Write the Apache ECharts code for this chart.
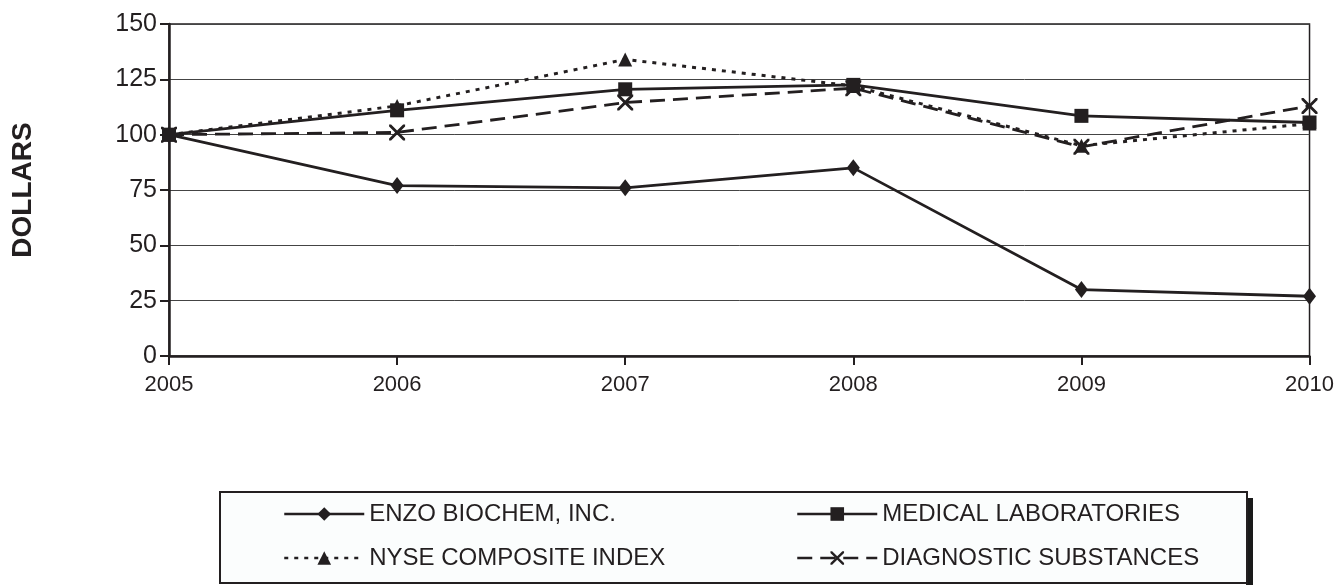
<!DOCTYPE html>
<html>
<head>
<meta charset="utf-8">
<script src="https://cdn.jsdelivr.net/npm/echarts@6/dist/echarts.min.js"></script>
<style>
  html, body { margin: 0; padding: 0; background: #fff; }
  #chart { width: 1337px; height: 585px; }
</style>
</head>
<body>
<div id="chart"></div>
<script>
// data
const years = ["2005", "2006", "2007", "2008", "2009", "2010"];
const enzo = [100, 77, 76, 85, 30, 27];
const medical = [100, 111, 120.5, 122.5, 108.5, 105.5];
const nyse = [100, 113, 134, 122, 95, 105];
const diagnostic = [100, 101, 114.5, 121, 94.5, 113];

const ink = "#231f20";
const font = "Liberation Sans, Arial";
const crossPath =
  "path://M0,0 L2.5,0 L10,7.5 L17.5,0 L20,0 L20,2.5 L12.5,10 L20,17.5 L20,20 L17.5,20 L10,12.5 L2.5,20 L0,20 L0,17.5 L7.5,10 L0,2.5 Z";

const chart = echarts.init(document.getElementById("chart"), null, { renderer: "canvas" });

const legendBase = {
  orient: "horizontal",
  itemWidth: 80,
  itemHeight: 17,
  padding: 0,
  selectedMode: false,
  textStyle: { color: ink, fontFamily: font, fontSize: 24 },
  lineStyle: { width: 2.5 },
  z: 10,
};

const options = {
  backgroundColor: "#fff",
  animation: false,
  grid: {
    left: 169,
    right: 25,
    top: 24,
    bottom: 229,
    show: true,
    borderColor: ink,
    borderWidth: 1.5,
  },
  graphic: [
    // legend frame shadow
    {
      type: "rect",
      z: 0,
      shape: { x: 1246, y: 498, width: 7, height: 90 },
      style: { fill: "#1a1a1a" },
    },
    // legend frame
    {
      type: "rect",
      z: 1,
      shape: { x: 220, y: 492, width: 1027, height: 91 },
      style: { fill: "#fbfdfd", stroke: ink, lineWidth: 2 },
    },
  ],
  legend: [
    Object.assign({}, legendBase, { left: 283, top: 502, data: ["ENZO BIOCHEM, INC."] }),
    Object.assign({}, legendBase, { left: 796, top: 502, data: ["MEDICAL LABORATORIES"] }),
    Object.assign({}, legendBase, { left: 283, top: 546, data: ["NYSE COMPOSITE INDEX"] }),
    Object.assign({}, legendBase, { left: 796, top: 546, data: ["DIAGNOSTIC SUBSTANCES"] }),
  ],
  xAxis: {
    type: "category",
    boundaryGap: false,
    data: years,
    axisLine: { lineStyle: { color: ink, width: 2.5 } },
    axisTick: { show: true, length: 9, lineStyle: { color: ink, width: 2 } },
    axisLabel: {
      color: ink,
      fontFamily: font,
      fontSize: 22,
      margin: 18,
      showMinLabel: true,
      showMaxLabel: true,
      interval: 0,
    },
    splitLine: { show: false },
  },
  yAxis: {
    type: "value",
    min: 0,
    max: 150,
    interval: 25,
    name: "DOLLARS",
    nameLocation: "middle",
    nameRotate: 90,
    nameGap: 132,
    nameTextStyle: { color: ink, fontFamily: font, fontWeight: "bold", fontSize: 28 },
    axisLine: { show: true, lineStyle: { color: ink, width: 2.5 } },
    axisTick: { show: true, length: 9, lineStyle: { color: ink, width: 2 } },
    axisLabel: { color: ink, fontFamily: font, fontSize: 25, margin: 12 },
    splitLine: { show: true, lineStyle: { color: "#444", width: 1 } },
  },
  series: [
    {
      name: "ENZO BIOCHEM, INC.",
      type: "line",
      data: enzo,
      symbol: "diamond",
      symbolSize: [13, 17],
      color: ink,
      lineStyle: { color: ink, width: 2.8, type: "solid" },
      itemStyle: { color: ink },
      z: 3,
    },
    {
      name: "MEDICAL LABORATORIES",
      type: "line",
      data: medical,
      symbol: "rect",
      symbolSize: 14,
      color: ink,
      lineStyle: { color: ink, width: 2.8, type: "solid" },
      itemStyle: { color: ink },
      z: 4,
    },
    {
      name: "NYSE COMPOSITE INDEX",
      type: "line",
      data: nyse,
      symbol: "triangle",
      symbolSize: 14,
      color: ink,
      lineStyle: { color: ink, width: 3, type: [4, 6] },
      itemStyle: { color: ink },
      z: 3,
    },
    {
      name: "DIAGNOSTIC SUBSTANCES",
      type: "line",
      data: diagnostic,
      symbol: crossPath,
      symbolSize: 16,
      color: ink,
      lineStyle: { color: ink, width: 2.8, type: [15, 8] },
      itemStyle: { color: ink },
      z: 3,
    },
  ],
};

chart.setOption(options);
</script>
</body>
</html>
